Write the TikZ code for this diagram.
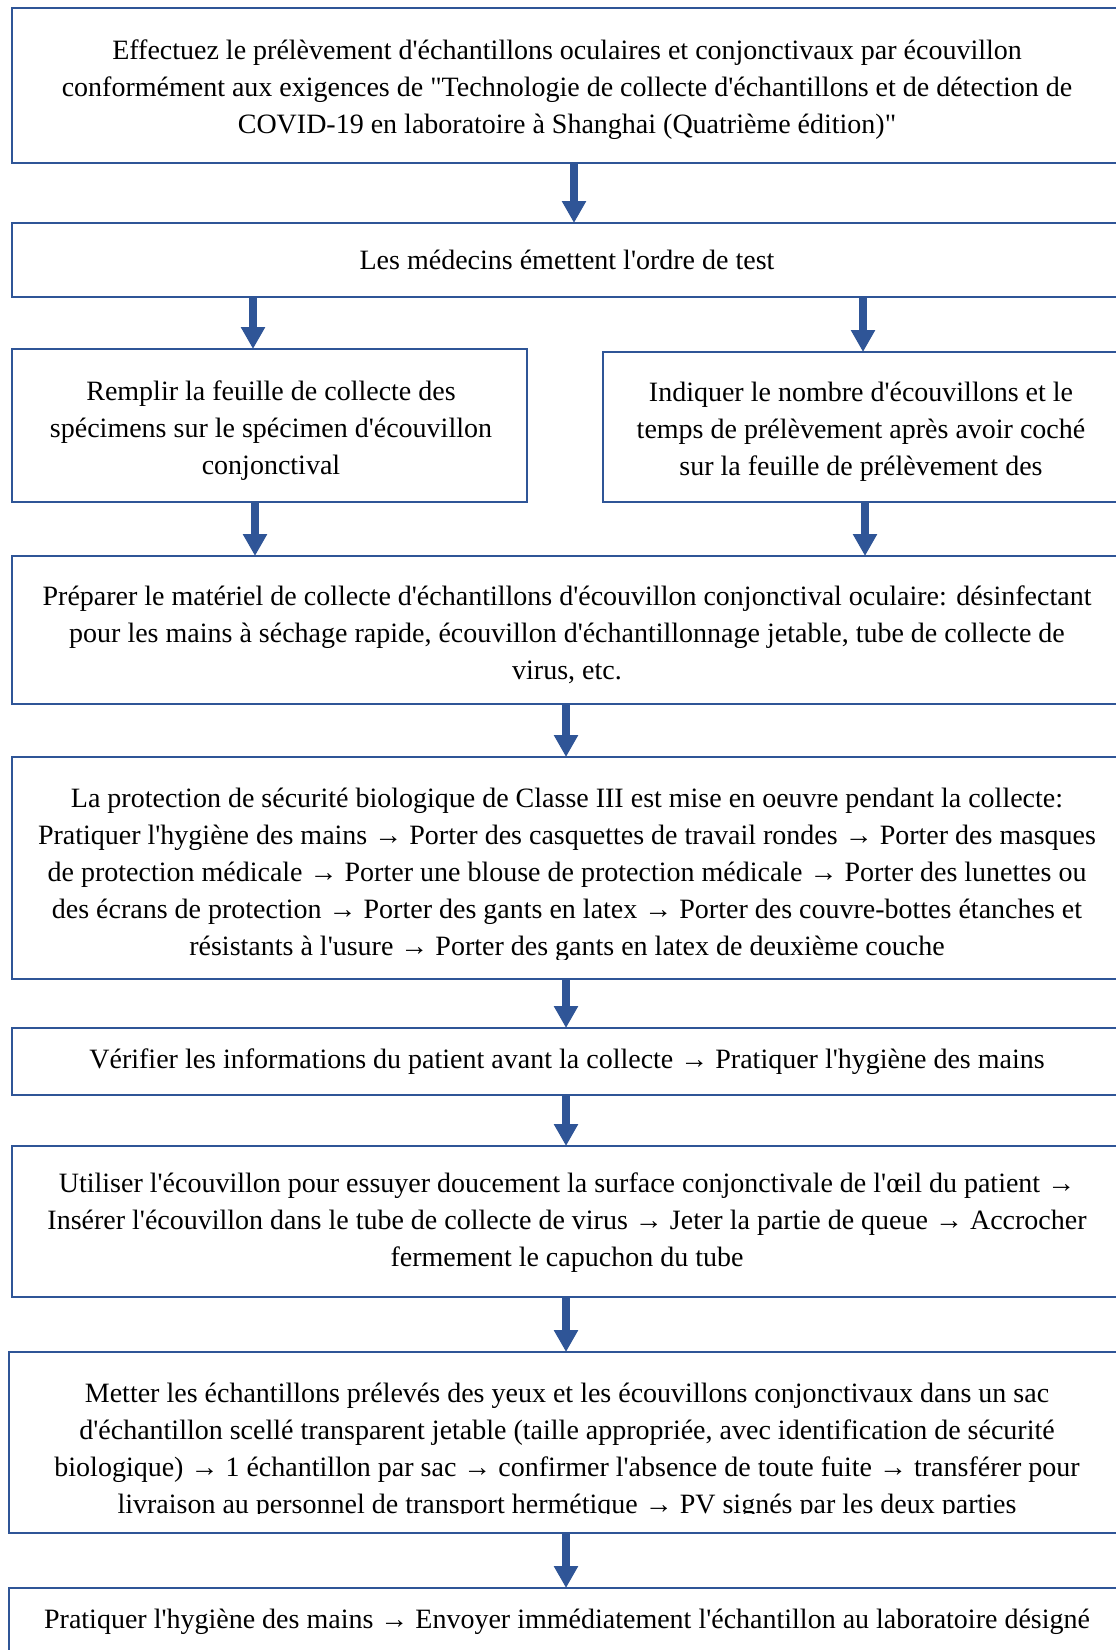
\documentclass[tikz,border=0pt]{standalone}
\usepackage{fontspec}
\setmainfont{Liberation Serif}[Ligatures=TeXOff]
\usetikzlibrary{arrows.meta}
\definecolor{flowblue}{RGB}{47,85,151}
\newcommand{\flowfont}{\fontsize{14pt}{18.5pt}\selectfont}
\begin{document}
\begin{tikzpicture}[x=0.5pt,y=-0.5pt,
  box/.style={draw=flowblue, line width=1.3pt, inner sep=0pt, outer sep=0pt, fill=none},
  txt/.style={font=\flowfont, align=center, inner sep=0pt, anchor=north, text=black},
  arr/.style={draw=flowblue, line width=4pt, -{Triangle[width=11.5pt,length=11pt]}}]
\useasboundingbox[fill=white] (0,0) rectangle (1115,1650);

% boxes
\node[box, minimum width=554pt, minimum height=77.5pt] (b1) at (566,85.5) {};
\node[box, minimum width=554pt, minimum height=37pt] (b2) at (566,260) {};
\node[box, minimum width=257.5pt, minimum height=76.5pt] (b3l) at (269.5,425.5) {};
\node[box, minimum width=258.5pt, minimum height=75pt] (b3r) at (861.5,427) {};
\node[box, minimum width=554pt, minimum height=74pt] (b4) at (566,630) {};
\node[box, minimum width=554pt, minimum height=111pt] (b5) at (566,868) {};
\node[box, minimum width=554pt, minimum height=33.5pt] (b6) at (566,1061.5) {};
\node[box, minimum width=554pt, minimum height=75.5pt] (b7) at (566,1221.5) {};
\node[box, minimum width=555.5pt, minimum height=90.5pt] (b8) at (564.5,1442.5) {};
\node[box, minimum width=555.5pt, minimum height=66pt] (b9) at (564.5,1654) {};

% texts (clipped to the inner area of each box)
\begin{scope}\clip (12,8) rectangle (1120,143);
\node[txt] (t1) at (567,33.1) {\strut Effectuez le prélèvement d'échantillons oculaires et conjonctivaux par écouvillon\\
conformément aux exigences de "Technologie de collecte d'échantillons et de détection de\\
COVID-19 en laboratoire à Shanghai (Quatrième édition)"};
\end{scope}
\begin{scope}\clip (12,223) rectangle (1120,277);
\node[txt] (t2) at (567,243.1) {\strut Les médecins émettent l'ordre de test};
\end{scope}
\begin{scope}\clip (12,349) rectangle (527,482);
\node[txt] (t3l) at (271,374.1) {\strut Remplir la feuille de collecte des\\
spécimens sur le spécimen d'écouvillon\\
conjonctival};
\end{scope}
\begin{scope}\clip (603,352) rectangle (1120,482);
\node[txt] (t3r) at (861,375.1) {\strut Indiquer le nombre d'écouvillons et le\\
temps de prélèvement après avoir coché\\
sur la feuille de prélèvement des};
\end{scope}
\begin{scope}\clip (12,556) rectangle (1120,684);
\node[txt] (t4) at (567,579.1) {\strut Préparer le matériel de collecte d'échantillons d'écouvillon conjonctival oculaire: désinfectant\\
pour les mains à séchage rapide, écouvillon d'échantillonnage jetable, tube de collecte de\\
virus, etc.};
\end{scope}
\begin{scope}\clip (12,757) rectangle (1120,959);
\node[txt] (t5) at (567,781.1) {\strut La protection de sécurité biologique de Classe III est mise en oeuvre pendant la collecte:\\
Pratiquer l'hygiène des mains → Porter des casquettes de travail rondes → Porter des masques\\
de protection médicale → Porter une blouse de protection médicale → Porter des lunettes ou\\
des écrans de protection → Porter des gants en latex → Porter des couvre-bottes étanches et\\
résistants à l'usure → Porter des gants en latex de deuxième couche};
\end{scope}
\begin{scope}\clip (12,1028) rectangle (1120,1078);
\node[txt] (t6) at (567,1042.1) {\strut Vérifier les informations du patient avant la collecte → Pratiquer l'hygiène des mains};
\end{scope}
\begin{scope}\clip (12,1146) rectangle (1120,1277);
\node[txt] (t7) at (567,1166.1) {\strut Utiliser l'écouvillon pour essuyer doucement la surface conjonctivale de l'œil du patient →\\
Insérer l'écouvillon dans le tube de collecte de virus → Jeter la partie de queue → Accrocher\\
fermement le capuchon du tube};
\end{scope}
\begin{scope}\clip (9,1352) rectangle (1120,1513);
\node[txt] (t8) at (567,1376.1) {\strut Metter les échantillons prélevés des yeux et les écouvillons conjonctivaux dans un sac\\
d'échantillon scellé transparent jetable (taille appropriée, avec identification de sécurité\\
biologique) → 1 échantillon par sac → confirmer l'absence de toute fuite → transférer pour\\
livraison au personnel de transport hermétique → PV signés par les deux parties};
\end{scope}
\begin{scope}\clip (9,1588) rectangle (1120,1700);
\node[txt] (t9) at (567,1602.1) {\strut Pratiquer l'hygiène des mains → Envoyer immédiatement l'échantillon au laboratoire désigné};
\end{scope}

% arrow columns
\coordinate (xa) at (574,0);
\coordinate (xl) at (253,0);
\coordinate (xr) at (863,0);
\coordinate (xl2) at (255,0);
\coordinate (xr2) at (865,0);
\coordinate (xm) at (566,0);

\draw[arr] (b1.south -| xa) -- (b2.north -| xa);
\draw[arr] (b2.south -| xl) -- (b3l.north -| xl);
\draw[arr] (b2.south -| xr) -- (b3r.north -| xr);
\draw[arr] (b3l.south -| xl2) -- (b4.north -| xl2);
\draw[arr] (b3r.south -| xr2) -- (b4.north -| xr2);
\draw[arr] (b4.south -| xm) -- (b5.north -| xm);
\draw[arr] (b5.south -| xm) -- (b6.north -| xm);
\draw[arr] (b6.south -| xm) -- (b7.north -| xm);
\draw[arr] (b7.south -| xm) -- (b8.north -| xm);
\draw[arr] (b8.south -| xm) -- (b9.north -| xm);
\end{tikzpicture}
\end{document}
